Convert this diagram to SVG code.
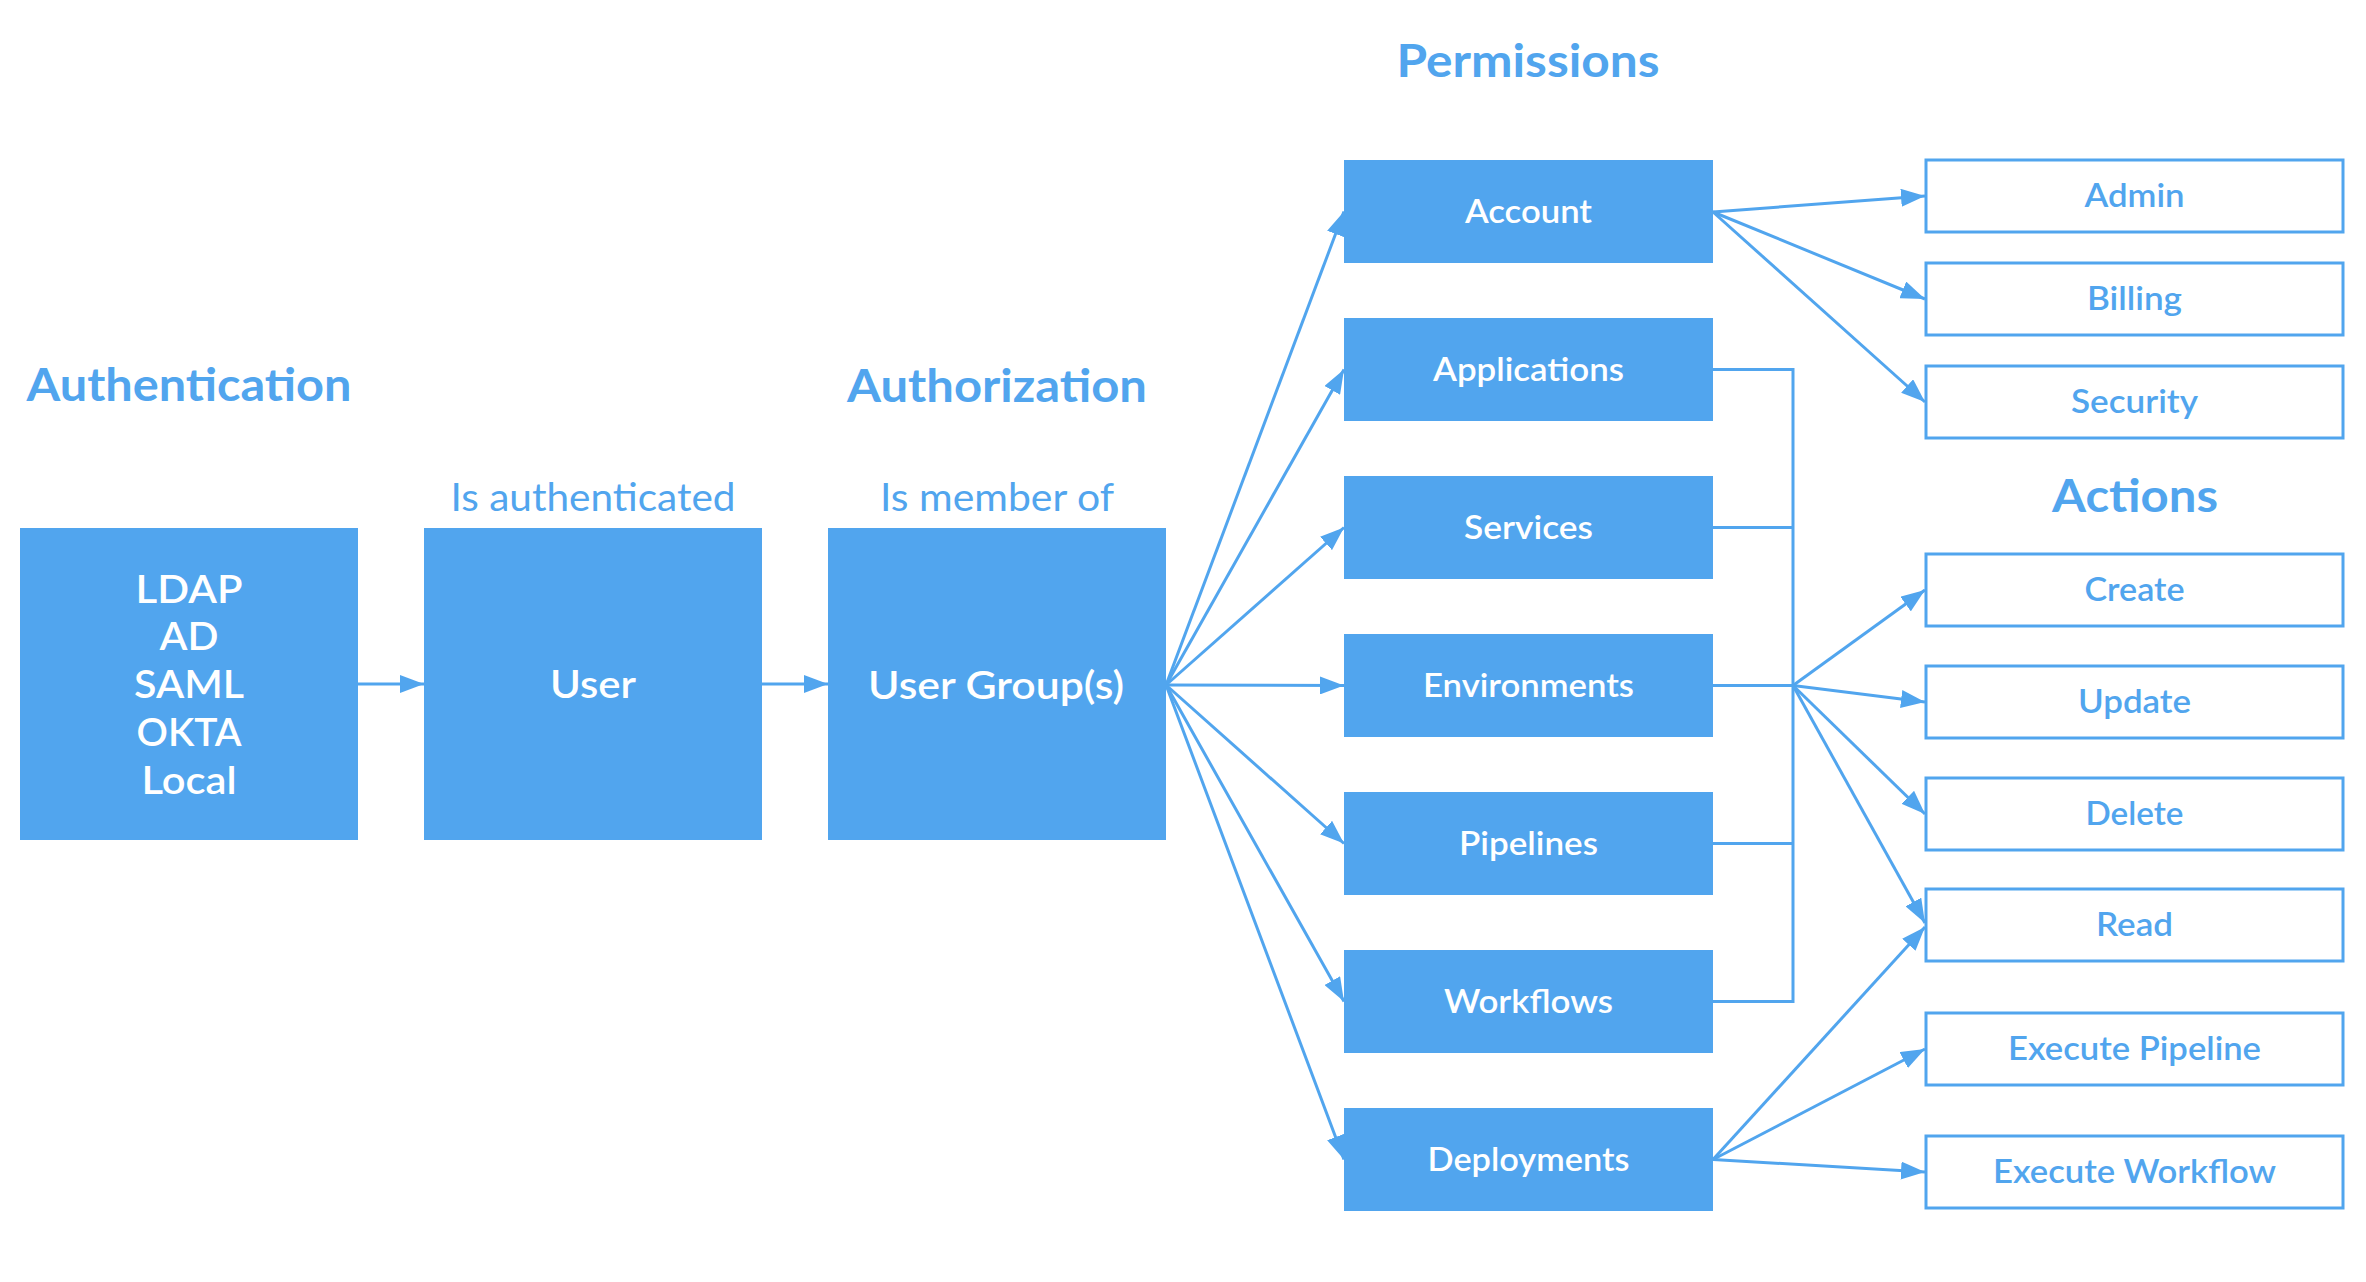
<svg xmlns="http://www.w3.org/2000/svg" width="2366" height="1282" viewBox="0 0 2366 1282">
<defs>
<style>
.fill{fill:#51A5EE}
.out{fill:#ffffff;stroke:#51A5EE;stroke-width:3}
text{font-family:Lato,"Open Sans",sans-serif;text-anchor:middle}
.head{font-weight:700;font-size:45px;fill:#51A5EE}
.sub{font-weight:400;font-size:38px;fill:#51A5EE}
.big{font-weight:600;font-size:38px;fill:#ffffff}
.lbl{font-weight:600;font-size:32px;fill:#ffffff}
.olbl{font-weight:600;font-size:32px;fill:#51A5EE}
.con{fill:none;stroke:#51A5EE;stroke-width:3}
</style>
<marker id="arr" markerUnits="userSpaceOnUse" markerWidth="24" markerHeight="18" refX="24" refY="9" orient="auto">
<path d="M0,0 L24,9 L0,18 z" fill="#51A5EE"/>
</marker>
</defs>
<rect width="2366" height="1282" fill="#ffffff"/>

<text class="head" x="189" y="401" textLength="325" lengthAdjust="spacingAndGlyphs">Authentication</text>
<text class="head" x="997" y="402" textLength="300" lengthAdjust="spacingAndGlyphs">Authorization</text>
<text class="head" x="1528" y="77" textLength="263" lengthAdjust="spacingAndGlyphs">Permissions</text>
<text class="head" x="2135" y="512" textLength="166" lengthAdjust="spacingAndGlyphs">Actions</text>
<text class="sub" x="593" y="511" textLength="285" lengthAdjust="spacingAndGlyphs">Is authenticated</text>
<text class="sub" x="997" y="511" textLength="234" lengthAdjust="spacingAndGlyphs">Is member of</text>

<g id="connectors">
<line class="con" x1="358" y1="684" x2="424" y2="684" marker-end="url(#arr)"/>
<line class="con" x1="762" y1="684" x2="828" y2="684" marker-end="url(#arr)"/>
<line class="con" x1="1166" y1="685" x2="1344" y2="211.5" marker-end="url(#arr)"/>
<line class="con" x1="1166" y1="685" x2="1344" y2="369.5" marker-end="url(#arr)"/>
<line class="con" x1="1166" y1="685" x2="1344" y2="527.5" marker-end="url(#arr)"/>
<line class="con" x1="1166" y1="685" x2="1344" y2="685.5" marker-end="url(#arr)"/>
<line class="con" x1="1166" y1="685" x2="1344" y2="843.5" marker-end="url(#arr)"/>
<line class="con" x1="1166" y1="685" x2="1344" y2="1001.5" marker-end="url(#arr)"/>
<line class="con" x1="1166" y1="685" x2="1344" y2="1159.5" marker-end="url(#arr)"/>
<line class="con" x1="1713" y1="212" x2="1925" y2="196" marker-end="url(#arr)"/>
<line class="con" x1="1713" y1="212" x2="1925" y2="299" marker-end="url(#arr)"/>
<line class="con" x1="1713" y1="212" x2="1925" y2="402" marker-end="url(#arr)"/>
<polyline class="con" points="1713,369.5 1793,369.5 1793,1001.5 1713,1001.5"/>
<line class="con" x1="1713" y1="527.5" x2="1793" y2="527.5"/>
<line class="con" x1="1713" y1="685.5" x2="1793" y2="685.5"/>
<line class="con" x1="1713" y1="843.5" x2="1793" y2="843.5"/>
<line class="con" x1="1793" y1="685.5" x2="1925" y2="590" marker-end="url(#arr)"/>
<line class="con" x1="1793" y1="685.5" x2="1925" y2="702" marker-end="url(#arr)"/>
<line class="con" x1="1793" y1="685.5" x2="1925" y2="814" marker-end="url(#arr)"/>
<line class="con" x1="1793" y1="685.5" x2="1925" y2="923" marker-end="url(#arr)"/>
<line class="con" x1="1713" y1="1159.5" x2="1925" y2="927" marker-end="url(#arr)"/>
<line class="con" x1="1713" y1="1159.5" x2="1925" y2="1049" marker-end="url(#arr)"/>
<line class="con" x1="1713" y1="1159.5" x2="1925" y2="1172" marker-end="url(#arr)"/>
</g>

<g id="auth">
<rect class="fill" x="20" y="528" width="338" height="312"/>
<text class="big" x="189" y="603" textLength="107" lengthAdjust="spacingAndGlyphs">LDAP</text>
<text class="big" x="189" y="650" textLength="59" lengthAdjust="spacingAndGlyphs">AD</text>
<text class="big" x="189" y="698" textLength="110" lengthAdjust="spacingAndGlyphs">SAML</text>
<text class="big" x="189" y="746" textLength="105" lengthAdjust="spacingAndGlyphs">OKTA</text>
<text class="big" x="189" y="794" textLength="95" lengthAdjust="spacingAndGlyphs">Local</text>
</g>
<g id="user">
<rect class="fill" x="424" y="528" width="338" height="312"/>
<text class="big" x="593" y="698" textLength="86" lengthAdjust="spacingAndGlyphs">User</text>
</g>
<g id="usergroups">
<rect class="fill" x="828" y="528" width="338" height="312"/>
<text class="big" x="996" y="699" textLength="256" lengthAdjust="spacingAndGlyphs">User Group(s)</text>
</g>

<g id="account"><rect class="fill" x="1344" y="160" width="369" height="103"/><text class="lbl" x="1528.5" y="223" textLength="127" lengthAdjust="spacingAndGlyphs">Account</text></g>
<g id="applications"><rect class="fill" x="1344" y="318" width="369" height="103"/><text class="lbl" x="1528.5" y="381" textLength="191" lengthAdjust="spacingAndGlyphs">Applications</text></g>
<g id="services"><rect class="fill" x="1344" y="476" width="369" height="103"/><text class="lbl" x="1528.5" y="539" textLength="129" lengthAdjust="spacingAndGlyphs">Services</text></g>
<g id="environments"><rect class="fill" x="1344" y="634" width="369" height="103"/><text class="lbl" x="1528.5" y="697" textLength="211" lengthAdjust="spacingAndGlyphs">Environments</text></g>
<g id="pipelines"><rect class="fill" x="1344" y="792" width="369" height="103"/><text class="lbl" x="1528.5" y="855" textLength="139" lengthAdjust="spacingAndGlyphs">Pipelines</text></g>
<g id="workflows"><rect class="fill" x="1344" y="950" width="369" height="103"/><text class="lbl" x="1528.5" y="1013" textLength="169" lengthAdjust="spacingAndGlyphs">Workflows</text></g>
<g id="deployments"><rect class="fill" x="1344" y="1108" width="369" height="103"/><text class="lbl" x="1528.5" y="1171" textLength="202" lengthAdjust="spacingAndGlyphs">Deployments</text></g>

<g id="admin"><rect class="out" x="1926" y="160" width="417" height="72"/><text class="olbl" x="2134.5" y="207" textLength="100" lengthAdjust="spacingAndGlyphs">Admin</text></g>
<g id="billing"><rect class="out" x="1926" y="263" width="417" height="72"/><text class="olbl" x="2134.5" y="310" textLength="95" lengthAdjust="spacingAndGlyphs">Billing</text></g>
<g id="security"><rect class="out" x="1926" y="366" width="417" height="72"/><text class="olbl" x="2134.5" y="413" textLength="127" lengthAdjust="spacingAndGlyphs">Security</text></g>
<g id="create"><rect class="out" x="1926" y="554" width="417" height="72"/><text class="olbl" x="2134.5" y="601" textLength="100" lengthAdjust="spacingAndGlyphs">Create</text></g>
<g id="update"><rect class="out" x="1926" y="666" width="417" height="72"/><text class="olbl" x="2134.5" y="713" textLength="113" lengthAdjust="spacingAndGlyphs">Update</text></g>
<g id="delete"><rect class="out" x="1926" y="778" width="417" height="72"/><text class="olbl" x="2134.5" y="825" textLength="98" lengthAdjust="spacingAndGlyphs">Delete</text></g>
<g id="read"><rect class="out" x="1926" y="889" width="417" height="72"/><text class="olbl" x="2134.5" y="936" textLength="77" lengthAdjust="spacingAndGlyphs">Read</text></g>
<g id="execpipeline"><rect class="out" x="1926" y="1013" width="417" height="72"/><text class="olbl" x="2134.5" y="1060" textLength="253" lengthAdjust="spacingAndGlyphs">Execute Pipeline</text></g>
<g id="execworkflow"><rect class="out" x="1926" y="1136" width="417" height="72"/><text class="olbl" x="2134.5" y="1183" textLength="283" lengthAdjust="spacingAndGlyphs">Execute Workflow</text></g>
</svg>
